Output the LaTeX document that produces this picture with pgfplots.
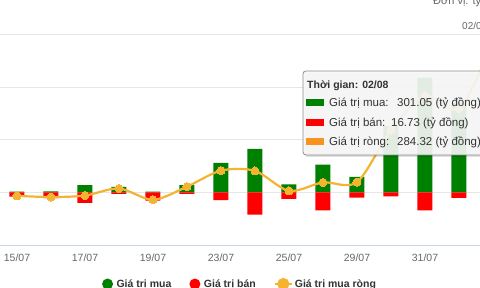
\documentclass[border=0pt]{standalone}
\usepackage{fontspec}
\setmainfont{Liberation Sans}
\usepackage{pgfplots}
\pgfplotsset{compat=1.18}
\usepackage{pgfplotstable}
\definecolor{buyc}{HTML}{008000}
\definecolor{sellc}{HTML}{FF0000}
\definecolor{netc}{HTML}{F4B431}
\definecolor{netsw}{HTML}{F7931E}
\definecolor{gridc}{HTML}{E6E6E6}
\definecolor{axc}{HTML}{CCD6EB}
\definecolor{tickc}{HTML}{666666}
\definecolor{txtc}{HTML}{333333}
\pgfplotstableread{
x buy sell net
0 1.5 -8 -6.5
1 2 -10.8 -8.8
2 14 -20 -6
3 10.5 -3 7.5
4 1.5 -15.5 -14
5 14 -3 11
6 56 -14.5 41.5
7 83 -42 41
8 15.5 -12.5 3
9 53 -34 19
10 29.5 -10 19.5
11 126 -7.5 118.5
12 218 -34 184
13 170 -10.5 159.5
14 301.05 -16.73 284.32
}\datatable
\begin{document}
\begin{tikzpicture}[x=1pt,y=1pt]
\useasboundingbox (0,0) rectangle (480,288);
\clip (0,0) rectangle (480,288);
\begin{axis}[
  at={(0pt,43pt)}, anchor=south west,
  scale only axis, width=480pt, height=210.3pt,
  xmin=-0.5, xmax=13.618, ymin=-100, ymax=300,
  axis lines*=left,
  x axis line style={draw=axc, line width=0.9pt},
  y axis line style={draw=none},
  ytick={-100,0,100,200,300}, yticklabels={},
  ymajorgrids, grid style={draw=gridc, line width=0.9pt},
  xtick={0,2,4,6,8,10,12,14},
  xticklabels={15/07,17/07,19/07,23/07,25/07,29/07,31/07,02/08},
  major tick length=0pt,
  xticklabel style={yshift=-5pt, font=\fontsize{10.5}{12}\selectfont, text=tickc},
  legend columns=3,
  legend cell align=left,
  legend style={draw=none, fill=none, at={(axis description cs:0.5,-0.1855)}, anchor=center,
    font=\bfseries\fontsize{10.5}{12}\selectfont, text=txtc,
    /tikz/every even column/.append style={column sep=16pt}},
]
\addplot[ybar, bar width=15pt, bar shift=0pt, fill=buyc, draw=none,
  legend image code/.code={\path (-5.5pt,0pt) (7pt,0pt); \fill[buyc] (0pt,0pt) circle (5.5pt);}]
  table[x=x, y=buy] {\datatable};
\addlegendentry{Giá trị mua}
\addplot[ybar, bar width=15pt, bar shift=0pt, fill=sellc, draw=none,
  legend image code/.code={\path (-5.5pt,0pt) (7pt,0pt); \fill[sellc] (0pt,0pt) circle (5.5pt);}]
  table[x=x, y=sell] {\datatable};
\addlegendentry{Giá trị bán}
\addplot[color=netc, line width=2.2pt, smooth, mark=*, mark size=4pt,
  mark options={fill=netc, draw=netc, line width=0pt},
  legend image code/.code={\draw[netc, line width=2pt] (0pt,0pt) -- (17pt,0pt); \fill[netc] (8.5pt,0pt) circle (5pt);}]
  table[x=x, y=net] {\datatable};
\addlegendentry{Giá trị mua ròng}
\end{axis}
% unit note and crosshair label (cropped at top right)
\node[anchor=base west, inner sep=0pt, text=tickc, font=\fontsize{11}{13}\selectfont] at (433,283) {Đơn vị: tỷ đồng};
\node[anchor=base west, inner sep=0pt, text=tickc, font=\fontsize{10}{12}\selectfont] at (462,258) {02/08};
% tooltip
\fill[black, opacity=0.12, rounded corners=3pt] (305,131) rectangle (490,215);
\filldraw[fill=white!97!black, fill opacity=0.92, draw=black!45, line width=0.8pt, rounded corners=3pt] (303,133) rectangle (488,217);
\node[anchor=base west, inner sep=0pt, text=txtc, font=\bfseries\fontsize{10.5}{12}\selectfont] at (307,199) {Thời gian: 02/08};
\fill[buyc] (306,181.5) rectangle (324,188.5);
\fill[sellc] (306,161.5) rectangle (324,168.5);
\fill[netsw] (306,142.5) rectangle (324,149.5);
\node[anchor=base west, inner sep=0pt, text=txtc, font=\fontsize{11.5}{13}\selectfont] at (329,181) {Giá trị mua:};
\node[anchor=base west, inner sep=0pt, text=txtc, font=\fontsize{11.5}{13}\selectfont] at (397,181) {301.05 (tỷ đồng)};
\node[anchor=base west, inner sep=0pt, text=txtc, font=\fontsize{11.5}{13}\selectfont] at (329,161) {Giá trị bán:};
\node[anchor=base west, inner sep=0pt, text=txtc, font=\fontsize{11.5}{13}\selectfont] at (391,161) {16.73 (tỷ đồng)};
\node[anchor=base west, inner sep=0pt, text=txtc, font=\fontsize{11.5}{13}\selectfont] at (329,142) {Giá trị ròng:};
\node[anchor=base west, inner sep=0pt, text=txtc, font=\fontsize{11.5}{13}\selectfont] at (397,142) {284.32 (tỷ đồng)};
\end{tikzpicture}
\end{document}
